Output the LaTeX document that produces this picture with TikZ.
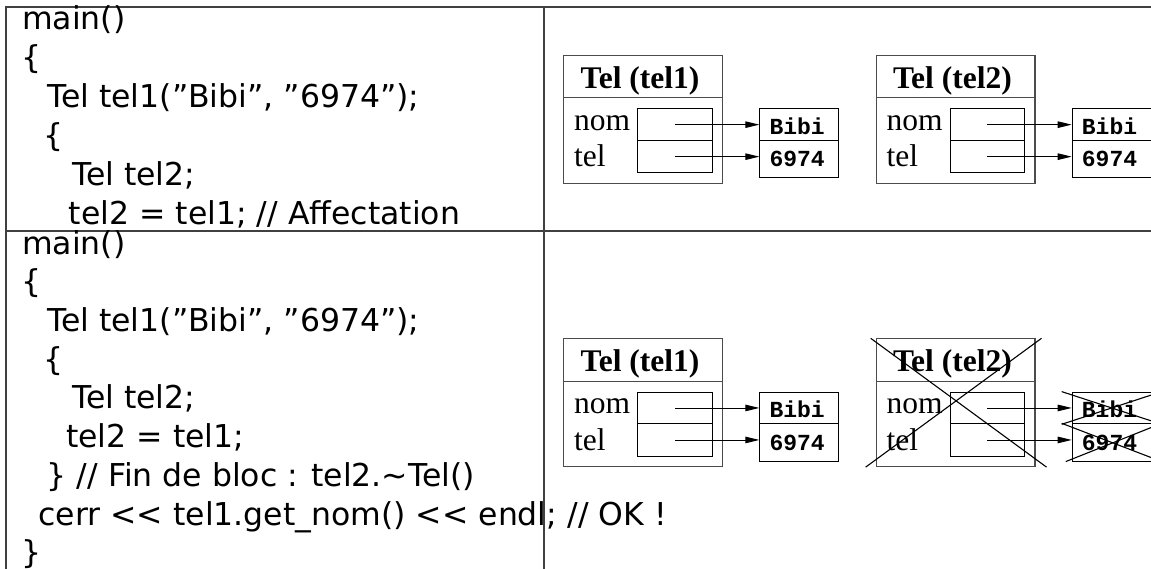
\documentclass[tikz,border=0pt]{standalone}
\usepackage{fontspec}
\setmainfont{Liberation Serif}
\newfontfamily\codefamily{DejaVu Sans}
\newfontfamily\valfamily{Liberation Mono}
\usetikzlibrary{arrows.meta}
\tikzset{
  tableline/.style={draw=black!75, line width=1.2pt},
  outerbox/.style={draw=black!70, line width=1.1pt, inner sep=0pt, anchor=north west},
  cellbox/.style={draw=black, line width=1pt, inner sep=0pt, anchor=north west},
  ptr/.style={line width=0.9pt, -{Triangle[length=14pt,width=6.5pt]}},
  code/.style={anchor=base west, inner sep=0pt, font=\codefamily\fontsize{31.5}{39}\selectfont},
  objtitle/.style={anchor=base, inner sep=0pt, font=\bfseries\fontsize{31.5}{36}\selectfont},
  field/.style={anchor=base west, inner sep=0pt, font=\fontsize{31.5}{36}\selectfont},
  val/.style={anchor=base west, inner sep=0pt, font=\valfamily\bfseries\fontsize{23}{26}\selectfont},
  cross/.style={line width=1.1pt},
}
\newcommand\telobj[4]{%
  \begin{scope}[shift={(#2,#3)}]
    \node[outerbox, minimum width=158.7pt, minimum height=127.7pt] (#1-box) at (0,0) {};
    \node[outerbox, minimum width=158.7pt, minimum height=42.3pt] (#1-head) at (0,0) {};
    \node[objtitle] (#1-title) at (76.7,33) {Tel (#4)};
    \node[field] (#1-nom) at (10.7,75) {nom};
    \node[field] (#1-tel) at (10.7,111.7) {tel};
    \node[cellbox, minimum width=74.4pt, minimum height=31.7pt] (#1-s1) at (74,53.3) {};
    \node[cellbox, minimum width=74.4pt, minimum height=32.3pt] (#1-s2) at (74,85) {};
    \node[cellbox, minimum width=79pt, minimum height=31.7pt] (#1-v1) at (196,53.3) {};
    \node[cellbox, minimum width=79pt, minimum height=37.3pt] (#1-v2) at (196,85) {};
    \node[val] (#1-t1) at (206,79.3) {Bibi};
    \node[val] (#1-t2) at (206,111.7) {6974};
    \draw[ptr] (#1-s1.center) -- (#1-s1.center -| #1-v1.west);
    \draw[ptr] (#1-s2.center) -- (#1-s2.center -| #1-v2.west);
  \end{scope}}
\begin{document}
\begin{tikzpicture}[x=1pt, y=-1pt]
\useasboundingbox (0,0) rectangle (1151,568);
% table
\draw[tableline] (6,580) -- (6,7) -- (1160,7);
\draw[tableline] (6,231) -- (1160,231);
\draw[tableline] (544,7) -- (544,580);
% top code
\node[code] (a1) at (22,29) {main()};
\node[code] (a2) at (21.7,68) {\{};
\node[code] (a3) at (47,107) {Tel tel1(”Bibi”, ”6974”);};
\node[code] (a4) at (43.7,146) {\{};
\node[code] (a5) at (72,185) {Tel tel2;};
\node[code] (a6) at (68.7,224) {tel2 = tel1; // Affectation};
% bottom code
\node[code] (b1) at (22,254) {main()};
\node[code] (b2) at (21.7,292.7) {\{};
\node[code] (b3) at (47,331.4) {Tel tel1(”Bibi”, ”6974”);};
\node[code] (b4) at (43.7,370) {\{};
\node[code] (b5) at (72,408.8) {Tel tel2;};
\node[code] (b6) at (66,447.5) {tel2 = tel1;};
\node[code] (b7) at (46.7,486.2) {\} // Fin de bloc : tel2.\textasciitilde Tel()};
\node[code] (b8) at (38.3,525) {cerr << tel1.get\_nom() << endl; // OK !};
\node[code] (b9) at (21.7,563.6) {\}};
% objects
\telobj{A}{563.3}{55}{tel1}
\telobj{B}{875.7}{55}{tel2}
\telobj{C}{563.3}{338.3}{tel1}
\telobj{D}{875.7}{338.3}{tel2}
% crosses
\draw[cross] ([xshift=-5pt]D-box.north west) -- ([xshift=11pt]D-box.south east);
\draw[cross] ([xshift=-10pt]D-box.south west) -- ([xshift=6pt]D-box.north east);
\draw[cross] ([xshift=-10pt]D-v1.north west) -- ([xshift=10pt]D-v1.south east);
\draw[cross] ([xshift=-10pt]D-v1.south west) -- ([xshift=10pt]D-v1.north east);
\draw[cross] ([xshift=-10pt]D-v2.north west) -- ([xshift=10pt]D-v2.south east);
\draw[cross] ([xshift=-6pt]D-v2.south west) -- ([xshift=10pt]D-v2.north east);
\end{tikzpicture}
\end{document}
